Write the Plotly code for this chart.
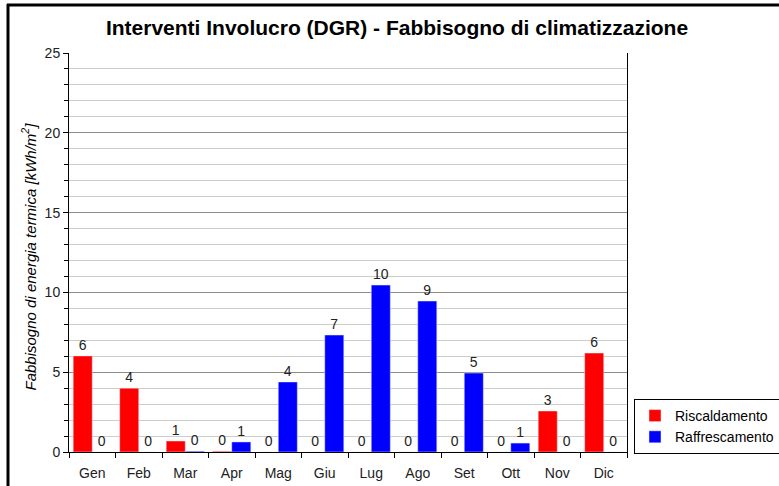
import plotly.graph_objects as go

months = ["Gen", "Feb", "Mar", "Apr", "Mag", "Giu", "Lug", "Ago", "Set", "Ott", "Nov", "Dic"]
riscaldamento = [6.02, 4.0, 0.69, 0.05, 0.0, 0.0, 0.0, 0.0, 0.0, 0.0, 2.57, 6.2]
raffrescamento = [0.0, 0.0, 0.05, 0.63, 4.39, 7.33, 10.46, 9.46, 4.95, 0.56, 0.0, 0.0]

W, H = 779, 486
L, R, T, B = 69, 627, 53, 452

def px(x):
    return (x - L) / (R - L)

def py(y):
    return (B - y) / (B - T)

font = "Liberation Sans, Arial, sans-serif"

fig = go.Figure()
fig.add_trace(go.Bar(
    x=months, y=riscaldamento, name="Riscaldamento", marker_color="#ff0000",
    text=[f"{v:.0f}" for v in riscaldamento], textposition="outside",
    textfont=dict(size=14, color="#222222", family=font), cliponaxis=False,
))
fig.add_trace(go.Bar(
    x=months, y=raffrescamento, name="Raffrescamento", marker_color="#0000ff",
    text=[f"{v:.0f}" for v in raffrescamento], textposition="outside",
    textfont=dict(size=14, color="#222222", family=font), cliponaxis=False,
))

fig.update_layout(
    width=W, height=H,
    margin=dict(l=L, r=W - R, t=T, b=H - B, autoexpand=False),
    paper_bgcolor="white", plot_bgcolor="white",
    barmode="group", bargap=0.18, bargroupgap=0.0,
    font=dict(family=font, size=14, color="#222222"),
    title=dict(
        text="<b>Interventi Involucro (DGR) - Fabbisogno di climatizzazione</b>",
        x=397 / W, xanchor="center", y=1 - 28 / H, yanchor="middle",
        font=dict(size=21, color="#000000", family=font),
    ),
    legend=dict(
        x=px(634), xanchor="left", y=py(399), yanchor="top",
        bordercolor="#000000", borderwidth=1, bgcolor="white",
        font=dict(size=14, color="#000000", family=font),
        itemwidth=30, tracegroupgap=2,
    ),
    showlegend=True,
)
fig.update_xaxes(
    showline=True, linecolor="#000000", linewidth=1,
    ticks="outside", ticklen=5, tickcolor="#000000", tickson="boundaries",
    ticklabelstandoff=8,
    showgrid=False, tickfont=dict(size=14, color="#222222"),
)
fig.update_yaxes(
    range=[0, 25], dtick=5, tick0=0,
    showline=True, linecolor="#000000", linewidth=1, mirror=True,
    ticks="outside", ticklen=5, tickcolor="#000000",
    showgrid=True, gridcolor="#8c8c8c", gridwidth=1,
    zeroline=False,
    minor=dict(dtick=1, showgrid=True, gridcolor="#cccccc", gridwidth=1,
               ticks="outside", ticklen=4, tickcolor="#000000"),
    tickfont=dict(size=14, color="#222222"),
)

fig.add_annotation(
    text="<i>Fabbisogno di energia termica [kWh/m<sup>2</sup>]</i>",
    xref="paper", yref="paper", x=px(29), y=0.49,
    xanchor="center", yanchor="middle", textangle=-90, showarrow=False,
    font=dict(size=15, color="#000000", family=font),
)

# outer frame (top and left edges visible in the picture)
fig.add_shape(type="line", xref="paper", yref="paper",
              x0=px(7), x1=px(W + 5), y0=py(5), y1=py(5),
              line=dict(color="#000000", width=3))
fig.add_shape(type="line", xref="paper", yref="paper",
              x0=px(8), x1=px(8), y0=py(4), y1=py(H + 5),
              line=dict(color="#000000", width=3))

fig.write_html("out.html", config={"displayModeBar": False})

# remove the default page margin so the figure sits at the window's top-left corner
with open("out.html", "r", encoding="utf-8") as f:
    html = f.read()
html = html.replace("<head>", "<head><style>html,body{margin:0;padding:0;overflow:hidden;}</style>", 1)
with open("out.html", "w", encoding="utf-8") as f:
    f.write(html)
